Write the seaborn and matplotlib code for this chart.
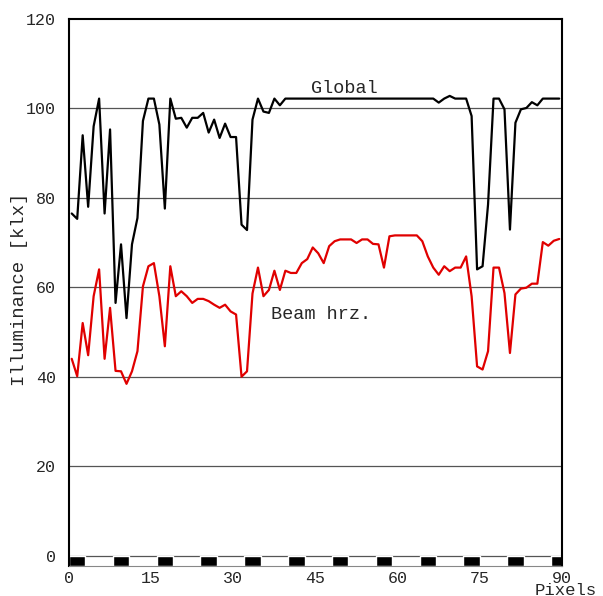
import numpy as np
import matplotlib
matplotlib.use("Agg")
import matplotlib.pyplot as plt
import seaborn as sns

# pixel index along the scan line (values sit at pixel centres)
pixels = np.arange(90) + 0.5

global_klx = [76.5, 75.3, 94.0, 78.0, 96.0, 102.2, 76.5, 95.3, 56.5, 69.6,
              53.1, 69.6, 75.5, 97.2, 102.2, 102.2, 96.4, 77.6, 102.2, 97.7,
              97.9, 95.7, 97.9, 97.9, 99.0, 94.6, 97.5, 93.4, 96.6, 93.6,
              93.6, 74.0, 72.8, 97.5, 102.2, 99.3, 99.0, 102.2, 100.7, 102.2,
              102.2, 102.2, 102.2, 102.2, 102.2, 102.2, 102.2, 102.2, 102.2, 102.2,
              102.2, 102.2, 102.2, 102.2, 102.2, 102.2, 102.2, 102.2, 102.2, 102.2,
              102.2, 102.2, 102.2, 102.2, 102.2, 102.2, 102.2, 101.3, 102.2, 102.8,
              102.2, 102.2, 102.2, 98.3, 64.0, 64.7, 78.5, 102.2, 102.2, 99.8,
              72.9, 96.8, 99.8, 100.1, 101.4, 100.7, 102.2, 102.2, 102.2, 102.2]

beam_klx = [44.0, 40.1, 52.0, 44.8, 58.0, 64.0, 44.0, 55.4, 41.3, 41.2,
            38.4, 41.2, 45.7, 60.2, 64.7, 65.4, 58.0, 46.8, 64.7, 58.0,
            59.1, 58.0, 56.5, 57.4, 57.4, 56.9, 56.1, 55.4, 56.1, 54.6,
            53.9, 40.0, 41.2, 58.6, 64.4, 58.0, 59.4, 63.7, 59.4, 63.7,
            63.2, 63.2, 65.4, 66.3, 68.9, 67.6, 65.4, 69.2, 70.3, 70.7,
            70.7, 70.7, 69.9, 70.7, 70.7, 69.7, 69.6, 64.4, 71.4, 71.6,
            71.6, 71.6, 71.6, 71.6, 70.3, 66.9, 64.4, 62.8, 64.7, 63.6,
            64.4, 64.4, 66.9, 58.0, 42.3, 41.6, 45.7, 64.4, 64.4, 58.7,
            45.3, 58.4, 59.7, 59.9, 60.8, 60.8, 70.1, 69.3, 70.4, 70.8]

y_ticks = [0, 20, 40, 60, 80, 100, 120]
x_ticks = [0, 15, 30, 45, 60, 75, 90]

sns.set_style("white")
plt.rcParams['font.family'] = ['Liberation Mono', 'DejaVu Sans Mono']

fig = plt.figure(figsize=(6.03, 5.96), dpi=100)
ax = fig.add_axes([0.1144, 0.0503, 0.8176, 0.9178])

# horizontal grid
for v in y_ticks[:-1]:
    ax.axhline(v, color='#555555', lw=0.9, zorder=0)

sns.lineplot(x=pixels, y=global_klx, color='black', lw=1.6, ax=ax)
sns.lineplot(x=pixels, y=beam_klx, color='#e00000', lw=1.6, ax=ax)

# checkered pixel strip under the zero line
strip_bottom = -2.35
ax.broken_barh([(s, 3) for s in range(0, 90, 8)], (strip_bottom, -strip_bottom),
               facecolors='black', zorder=1)

ax.text(50.3, 103.5, "Global", ha='center', va='baseline', fontsize=13.3)
ax.text(46.1, 53.0, "Beam hrz.", ha='center', va='baseline', fontsize=13.3)

ax.set_xlim(0, 90)
ax.set_ylim(strip_bottom, 120)
ax.set_yticks(y_ticks)
ax.set_xticks(x_ticks)
ax.set_xticks(range(0, 91, 5), minor=True)
ax.tick_params(axis='y', direction='out', length=3, width=1.2, pad=6.5, labelsize=12)
ax.tick_params(axis='x', which='both', direction='in', length=3, width=0.8,
               pad=3.5, labelsize=12, color='#555555')

ax.set_ylabel("Illuminance [klx]", fontsize=13.7, va='center')
ax.yaxis.set_label_coords(-0.101, 0.506)
ax.set_xlabel("Pixels", fontsize=12.4, ha='center', va='center')
ax.xaxis.set_label_coords(1.008, -0.044)

for side in ['left', 'right', 'top']:
    ax.spines[side].set_color('black')
    ax.spines[side].set_linewidth(1.5)
ax.spines['bottom'].set_color('#888888')
ax.spines['bottom'].set_linewidth(0.8)

fig.savefig("out.png", dpi=100)
